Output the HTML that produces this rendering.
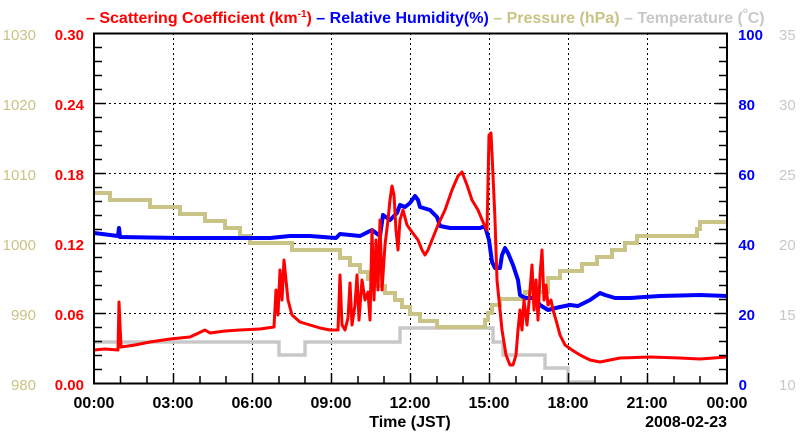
<!DOCTYPE html>
<html><head><meta charset="utf-8"><style>
body{margin:0;background:#fff;}
svg{display:block;font-family:"Liberation Sans",sans-serif;font-weight:bold;}
</style></head><body>
<svg width="800" height="434" viewBox="0 0 800 434" xmlns="http://www.w3.org/2000/svg">
<rect width="800" height="434" fill="#fff"/>
<g stroke="#000" stroke-width="1" stroke-dasharray="2,3">
<line x1="94" y1="103.5" x2="727" y2="103.5"/><line x1="94" y1="173.5" x2="727" y2="173.5"/>
<line x1="94" y1="243.5" x2="727" y2="243.5"/><line x1="94" y1="313.5" x2="727" y2="313.5"/>
<line x1="173.5" y1="33" x2="173.5" y2="383"/><line x1="252.5" y1="33" x2="252.5" y2="383"/>
<line x1="331.5" y1="33" x2="331.5" y2="383"/><line x1="410.5" y1="33" x2="410.5" y2="383"/>
<line x1="489.5" y1="33" x2="489.5" y2="383"/><line x1="568.5" y1="33" x2="568.5" y2="383"/>
<line x1="647.5" y1="33" x2="647.5" y2="383"/>
</g>
<polyline fill="none" stroke="#c8c8c8" stroke-width="3.5" points="94,342 279,342 279,355 305,355 305,342 400,342 400,328 493,328 493,342 503,342 503,355 545,355 545,368 568,368 568,382 595,382"/>
<polyline fill="none" stroke="#c9c385" stroke-width="4" points="94,193 110,193 110,200 150,200 150,207 180,207 180,214 205,214 205,221 225,221 225,228 240,228 240,236 250,236 250,243 292,243 292,250 340,250 340,258 350,258 350,265 360,265 360,272 368,272 368,279 375,279 375,286 385,286 385,293 395,293 395,300 402,300 402,307 410,307 410,314 420,314 420,321 437,321 437,327 485,327 485,320 488,320 488,313 492,313 492,305 500,305 500,299 525,299 525,292 548,292 548,278 560,278 560,271 582,271 582,264 597,264 597,257 612,257 612,250 625,250 625,243 637,243 637,236 697,236 697,229 700,229 700,222 727,222"/>
<polyline fill="none" stroke="#0000ff" stroke-width="4" stroke-linejoin="round" points="94,233 118,236 119,228 120,237 180,238 270,238 290,236 310,236 336,238 340,234 360,236 372,230 380,236 383,215 390,220 397,213 400,205 405,207 410,203 415,196 418,200 420,207 430,210 437,217 440,226 450,228 480,228 485,226 489,240 492,262 495,268 500,268 502,255 505,248 508,253 513,265 518,280 520,295 525,298 535,298 540,305 548,310 560,307 570,305 578,306 590,300 600,293 605,295 615,298 630,298 660,296 700,295 727,296"/>
<polyline fill="none" stroke="#ff0000" stroke-width="3" stroke-linejoin="round" points="94,350 105,349 118,350 119,302 121,347 135,345 150,342 170,339 190,337 205,330 210,333 225,331 240,330 260,329 274,327 276,290 278,315 280,270 282,300 284,260 286,280 288,300 292,315 300,322 320,328 330,330 338,330 340,275 342,325 345,330 348,318 350,283 352,325 355,305 357,275 359,320 362,280 365,300 368,292 370,320 372,230 374,300 376,240 378,290 380,220 382,290 385,245 388,220 390,200 392,186 394,195 396,230 398,250 400,220 403,210 407,225 412,232 418,240 422,250 425,255 428,250 432,240 438,225 445,210 452,190 458,176 462,172 467,185 472,200 478,210 483,222 487,230 489,135 491,133 493,175 495,220 497,280 499,300 502,330 506,355 510,365 513,365 516,355 518,330 520,310 522,330 524,300 527,325 530,290 532,265 534,310 536,280 538,320 540,275 542,250 544,300 546,285 548,305 551,300 553,310 556,320 560,335 565,345 572,350 580,355 590,360 600,362 610,360 620,358 650,357 680,358 700,359 727,357"/>
<rect x="94" y="33.5" width="633" height="350" fill="none" stroke="#000" stroke-width="2"/>
<g stroke="#000" stroke-width="1.5">
<path d="M94,47.5h8M94,61.5h8M94,75.5h8M94,89.5h8M94,103.5h12M94,117.5h8M94,131.5h8M94,145.5h8M94,159.5h8M94,173.5h12M94,187.5h8M94,201.5h8M94,215.5h8M94,229.5h8M94,243.5h12M94,257.5h8M94,271.5h8M94,285.5h8M94,299.5h8M94,313.5h12M94,327.5h8M94,341.5h8M94,355.5h8M94,369.5h8"/>
<path d="M727,47.5h-8M727,61.5h-8M727,75.5h-8M727,89.5h-8M727,103.5h-12M727,117.5h-8M727,131.5h-8M727,145.5h-8M727,159.5h-8M727,173.5h-12M727,187.5h-8M727,201.5h-8M727,215.5h-8M727,229.5h-8M727,243.5h-12M727,257.5h-8M727,271.5h-8M727,285.5h-8M727,299.5h-8M727,313.5h-12M727,327.5h-8M727,341.5h-8M727,355.5h-8M727,369.5h-8"/>
<path d="M120.5,383v-7M147,383v-7M173.5,383v-10M200,383v-7M226,383v-7M252.5,383v-10M279,383v-7M305,383v-7M331.5,383v-10M358,383v-7M384,383v-7M410.5,383v-10M437,383v-7M463,383v-7M489.5,383v-10M516,383v-7M542,383v-7M568.5,383v-10M595,383v-7M621,383v-7M647.5,383v-10M674,383v-7M700,383v-7"/>
</g>
<text y="23" font-size="16" x="86"><tspan fill="#ff0000">– Scattering Coefficient (km</tspan><tspan fill="#ff0000" font-size="10" dy="-6">-1</tspan><tspan fill="#ff0000" dy="6">) </tspan><tspan fill="#0000ff">– Relative Humidity(%) </tspan><tspan fill="#c9c385">– Pressure (hPa) </tspan><tspan fill="#c8c8c8">– Temperature (</tspan><tspan fill="#c8c8c8" font-size="8" dy="-10">o</tspan><tspan fill="#c8c8c8" dy="10">C)</tspan></text>
<g font-size="15" text-anchor="end" font-weight="normal" fill="#c9c385">
<text x="36" y="40">1030</text><text x="36" y="110">1020</text><text x="36" y="180">1010</text><text x="36" y="250">1000</text><text x="36" y="320">990</text><text x="36" y="390">980</text>
</g>
<g font-size="15" text-anchor="end" fill="#ff0000">
<text x="84" y="40">0.30</text><text x="84" y="110">0.24</text><text x="84" y="180">0.18</text><text x="84" y="250">0.12</text><text x="84" y="320">0.06</text><text x="84" y="390">0.00</text>
</g>
<g font-size="15" text-anchor="end" fill="#0000ff">
<text x="763" y="40">100</text><text x="755" y="110">80</text><text x="755" y="180">60</text><text x="755" y="250">40</text><text x="755" y="320">20</text><text x="747" y="390">0</text>
</g>
<g font-size="15" font-weight="normal" fill="#c8c8c8">
<text x="779" y="40">35</text><text x="779" y="110">30</text><text x="779" y="180">25</text><text x="779" y="250">20</text><text x="779" y="320">15</text><text x="779" y="390">10</text>
</g>
<g font-size="16" text-anchor="middle" fill="#000">
<text x="94" y="408">00:00</text><text x="173" y="408">03:00</text><text x="252" y="408">06:00</text><text x="331" y="408">09:00</text><text x="410" y="408">12:00</text><text x="489" y="408">15:00</text><text x="568" y="408">18:00</text><text x="647" y="408">21:00</text><text x="727" y="408">00:00</text>
<text x="410" y="427">Time (JST)</text>
</g>
<text x="727" y="427" font-size="16" text-anchor="end" fill="#000">2008-02-23</text>
</svg>
</body></html>
